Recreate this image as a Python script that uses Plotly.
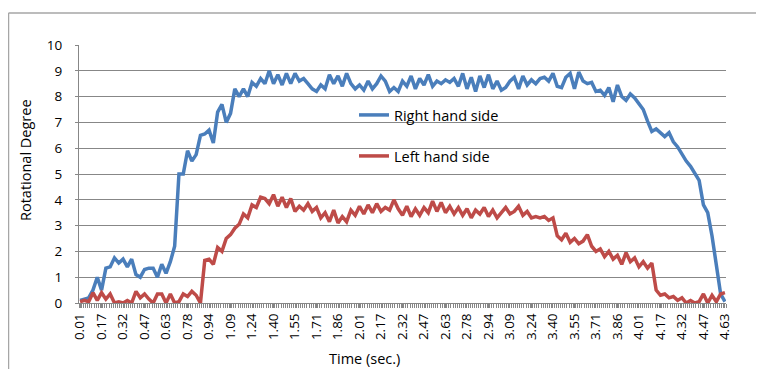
import plotly.graph_objects as go

# Tick labels (time in seconds), one every 10 samples
tick_labels = ["0.01", "0.17", "0.32", "0.47", "0.63", "0.78", "0.94", "1.09", "1.24", "1.40",
               "1.55", "1.71", "1.86", "2.01", "2.17", "2.32", "2.47", "2.63", "2.78", "2.94",
               "3.09", "3.24", "3.40", "3.55", "3.71", "3.86", "4.01", "4.17", "4.32", "4.47", "4.63"]

# sample index (every second sample of 301)
sample_idx = list(range(0, 301, 2))

right_hand = [0.1, 0.15, 0.2, 0.5, 1.0, 0.5, 1.35, 1.4, 1.75, 1.55,
              1.7, 1.4, 1.7, 1.1, 1.0, 1.3, 1.35, 1.35, 1.0, 1.5,
              1.15, 1.6, 2.2, 5.0, 5.0, 5.9, 5.5, 5.75, 6.5, 6.55,
              6.7, 6.2, 7.4, 7.7, 7.0, 7.35, 8.3, 8.0, 8.3, 8.0,
              8.55, 8.4, 8.7, 8.5, 9.0, 8.5, 8.85, 8.45, 8.9, 8.5,
              8.9, 8.6, 8.7, 8.5, 8.3, 8.2, 8.45, 8.3, 8.85, 8.5,
              8.8, 8.4, 8.9, 8.5, 8.3, 8.45, 8.25, 8.6, 8.3, 8.5,
              8.8, 8.6, 8.2, 8.35, 8.2, 8.6, 8.4, 8.8, 8.3, 8.7,
              8.45, 8.85, 8.4, 8.6, 8.5, 8.65, 8.55, 8.7, 8.4, 8.9,
              8.3, 8.75, 8.2, 8.8, 8.35, 8.85, 8.3, 8.6, 8.25, 8.35,
              8.6, 8.75, 8.3, 8.8, 8.45, 8.65, 8.5, 8.7, 8.75, 8.6,
              8.9, 8.4, 8.35, 8.75, 8.9, 8.3, 8.95, 8.6, 8.5, 8.55,
              8.2, 8.25, 8.05, 8.35, 7.8, 8.45, 8.0, 7.85, 8.1, 7.95,
              7.7, 7.5, 7.05, 6.65, 6.75, 6.6, 6.45, 6.6, 6.25, 6.05,
              5.75, 5.5, 5.3, 5.0, 4.75, 3.8, 3.5, 2.6, 1.5, 0.35,
              0.05]

left_hand = [0.05, 0.1, 0.05, 0.4, 0.1, 0.4, 0.15, 0.35, 0.0, 0.05,
             0.0, 0.1, 0.0, 0.45, 0.2, 0.35, 0.15, 0.0, 0.35, 0.35,
             0.0, 0.35, 0.0, 0.05, 0.35, 0.25, 0.45, 0.3, 0.0, 1.65,
             1.7, 1.5, 2.15, 2.0, 2.5, 2.65, 2.9, 3.05, 3.45, 3.3,
             3.8, 3.7, 4.1, 4.05, 3.85, 4.2, 3.75, 4.1, 3.7, 4.05,
             3.55, 3.75, 3.6, 3.85, 3.55, 3.7, 3.3, 3.5, 3.15, 3.6,
             3.1, 3.35, 3.15, 3.6, 3.4, 3.75, 3.45, 3.8, 3.5, 3.85,
             3.55, 3.7, 3.6, 4.0, 3.65, 3.4, 3.75, 3.35, 3.65, 3.4,
             3.7, 3.5, 3.95, 3.55, 3.9, 3.5, 3.75, 3.45, 3.7, 3.4,
             3.65, 3.3, 3.6, 3.45, 3.7, 3.35, 3.6, 3.3, 3.5, 3.7,
             3.45, 3.55, 3.75, 3.4, 3.55, 3.3, 3.35, 3.3, 3.35, 3.2,
             3.3, 2.6, 2.45, 2.7, 2.35, 2.5, 2.3, 2.4, 2.65, 2.2,
             2.0, 2.1, 1.8, 2.0, 1.7, 1.85, 1.5, 1.95, 1.6, 1.75,
             1.4, 1.6, 1.35, 1.55, 0.5, 0.3, 0.35, 0.2, 0.25, 0.1,
             0.2, 0.0, 0.1, 0.0, 0.05, 0.35, 0.0, 0.3, 0.05, 0.35,
             0.4]

y_ticks = list(range(0, 11))

BLUE = "#4A7EBB"
RED = "#BE4B48"
GRID = "#878787"
FONT = "Open Sans, Liberation Sans, sans-serif"

# The page body has an 8px margin, so the figure is 8px smaller than the window
OFF = 8
W, H = 764 - OFF, 369 - OFF
# plot-area geometry in window pixels
L, R, T, B = 79, 726, 45, 303
PW, PH = R - L, B - T


def px_x(p):
    return (p - L) / PW


def px_y(p):
    return (B - p) / PH


fig = go.Figure()
fig.add_trace(go.Scatter(x=sample_idx, y=right_hand, mode="lines", name="Right hand side",
                         line=dict(color=BLUE, width=3.5), legend="legend"))
fig.add_trace(go.Scatter(x=sample_idx, y=left_hand, mode="lines", name="Left hand side",
                         line=dict(color=RED, width=3.5), legend="legend2"))

leg_common = dict(xanchor="left", yanchor="middle", bgcolor="rgba(0,0,0,0)",
                  font=dict(size=14.5), itemwidth=30, borderwidth=0)

fig.update_layout(
    width=W, height=H,
    margin=dict(l=L - OFF, r=764 - R, t=T - OFF, b=369 - B),
    paper_bgcolor="white", plot_bgcolor="white",
    font=dict(family=FONT, color="#000000", size=12),
    showlegend=True,
    legend=dict(x=px_x(354), y=px_y(115), **leg_common),
    legend2=dict(x=px_x(354), y=px_y(156), **leg_common),
    xaxis=dict(
        range=[-0.5, 300.5],
        automargin=False,
        tickmode="array",
        tickvals=list(range(0, 301, 10)),
        ticktext=tick_labels,
        tickangle=-90,
        tickfont=dict(size=13.5),
        ticks="outside", ticklen=4, tickcolor=GRID,
        minor=dict(ticks="outside", ticklen=4, tickcolor=GRID, tick0=-0.5, dtick=1, showgrid=False),
        showgrid=False, zeroline=False,
        showline=True, linecolor=GRID, linewidth=1,
    ),
    yaxis=dict(
        range=[0, 10],
        automargin=False,
        tickmode="array", tickvals=y_ticks,
        tickfont=dict(size=13.5),
        ticks="outside", ticklen=3, tickcolor=GRID,
        ticklabelstandoff=10,
        showgrid=True, gridcolor=GRID, gridwidth=1,
        zeroline=False,
        showline=True, linecolor=GRID, linewidth=1,
    ),
    annotations=[
        dict(text="Rotational Degree", xref="paper", yref="paper", x=px_x(25), y=px_y(160),
             xanchor="center", yanchor="middle", textangle=-90, showarrow=False,
             font=dict(size=14.5)),
        dict(text="Time (sec.)", xref="paper", yref="paper", x=px_x(364), y=px_y(358),
             xanchor="center", yanchor="middle", showarrow=False,
             font=dict(size=14.5)),
    ],
    shapes=[
        dict(type="line", xref="paper", yref="paper", x0=px_x(8.5), x1=px_x(800), y0=px_y(13), y1=px_y(13),
             line=dict(color="#A6A6A6", width=1.5)),
        dict(type="line", xref="paper", yref="paper", x0=px_x(8.5), x1=px_x(8.5), y0=px_y(400), y1=px_y(13),
             line=dict(color="#A6A6A6", width=1.5)),
    ],
)

fig.write_html("out.html")
